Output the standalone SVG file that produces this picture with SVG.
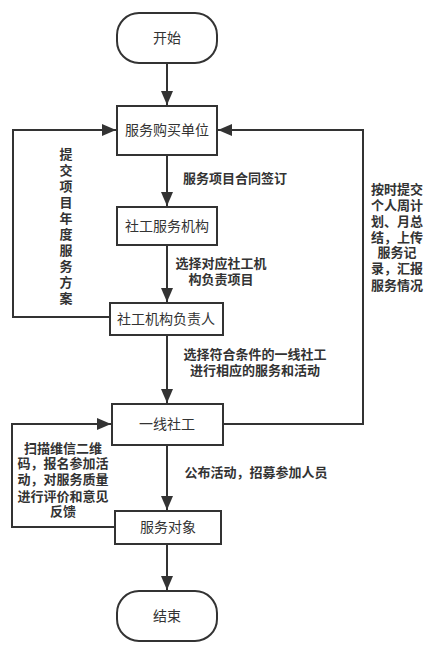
<svg xmlns="http://www.w3.org/2000/svg" width="429" height="651" viewBox="0 0 429 651">
<style>
.box{fill:#fff;stroke:#333;stroke-width:2}
.nt{font-family:"Noto Sans CJK SC","Noto Sans",sans-serif;font-size:14px;fill:#333;text-anchor:middle}
.lb{font-family:"Noto Sans CJK SC","Noto Sans",sans-serif;font-size:13px;font-weight:bold;fill:#333;text-anchor:middle}
.ln{fill:none;stroke:#333;stroke-width:2;marker-end:url(#ah)}
</style>
<defs>
<marker id="ah" markerUnits="userSpaceOnUse" markerWidth="16" markerHeight="14" refX="14" refY="6" orient="auto">
<path d="M0,0 L14,6 L0,12 Z" fill="#333"/>
</marker>
</defs>
<rect width="429" height="651" fill="#fff"/>
<g id="connectors">
<path class="ln" d="M167 63 V105"/>
<path class="ln" d="M167 155 V206"/>
<path class="ln" d="M167 245 V302"/>
<path class="ln" d="M167 335 V403"/>
<path class="ln" d="M167 445 V510"/>
<path class="ln" d="M167 544 V590"/>
<path class="ln" d="M110 317 H13 V130 H116"/>
<path class="ln" d="M223 424 H363 V130 H218"/>
<path class="ln" d="M115 527 H12 V424 H111"/>
</g>
<g id="labels">
<text class="lb" x="235" y="183">服务项目合同签订</text>
<text class="lb"><tspan x="221" y="268">选择对应社工机</tspan><tspan x="221" y="284">构负责项目</tspan></text>
<text class="lb"><tspan x="255" y="359">选择符合条件的一线社工</tspan><tspan x="255" y="375">进行相应的服务和活动</tspan></text>
<text class="lb" x="256" y="477">公布活动，招募参加人员</text>
<text class="lb"><tspan x="66" y="159">提</tspan><tspan x="66" y="175">交</tspan><tspan x="66" y="191">项</tspan><tspan x="66" y="207">目</tspan><tspan x="66" y="223">年</tspan><tspan x="66" y="239">度</tspan><tspan x="66" y="255">服</tspan><tspan x="66" y="271">务</tspan><tspan x="66" y="287">方</tspan><tspan x="66" y="303">案</tspan></text>
<text class="lb"><tspan x="397" y="194">按时提交</tspan><tspan x="397" y="210">个人周计</tspan><tspan x="397" y="226">划、月总</tspan><tspan x="397" y="242">结，上传</tspan><tspan x="397" y="257">服务记</tspan><tspan x="397" y="273">录，汇报</tspan><tspan x="397" y="290">服务情况</tspan></text>
<text class="lb"><tspan x="63" y="453">扫描维信二维</tspan><tspan x="63" y="468">码，报名参加活</tspan><tspan x="63" y="484">动，对服务质量</tspan><tspan x="63" y="501">进行评价和意见</tspan><tspan x="63" y="516">反馈</tspan></text>
</g>
<g id="start"><rect class="box" x="117" y="13" width="100" height="50" rx="22"/><text class="nt" x="167" y="43">开始</text></g>
<g id="buyer"><rect class="box" x="117" y="106" width="100" height="49"/><text class="nt" x="167" y="135">服务购买单位</text></g>
<g id="agency"><rect class="box" x="117" y="207" width="100" height="38"/><text class="nt" x="167" y="231">社工服务机构</text></g>
<g id="manager"><rect class="box" x="110" y="303" width="113" height="32"/><text class="nt" x="166" y="324">社工机构负责人</text></g>
<g id="worker"><rect class="box" x="112" y="404" width="111" height="41"/><text class="nt" x="167" y="429">一线社工</text></g>
<g id="client"><rect class="box" x="115" y="511" width="106" height="33"/><text class="nt" x="168" y="532">服务对象</text></g>
<g id="end"><rect class="box" x="117" y="591" width="100" height="50" rx="22"/><text class="nt" x="167" y="621">结束</text></g>
</svg>
